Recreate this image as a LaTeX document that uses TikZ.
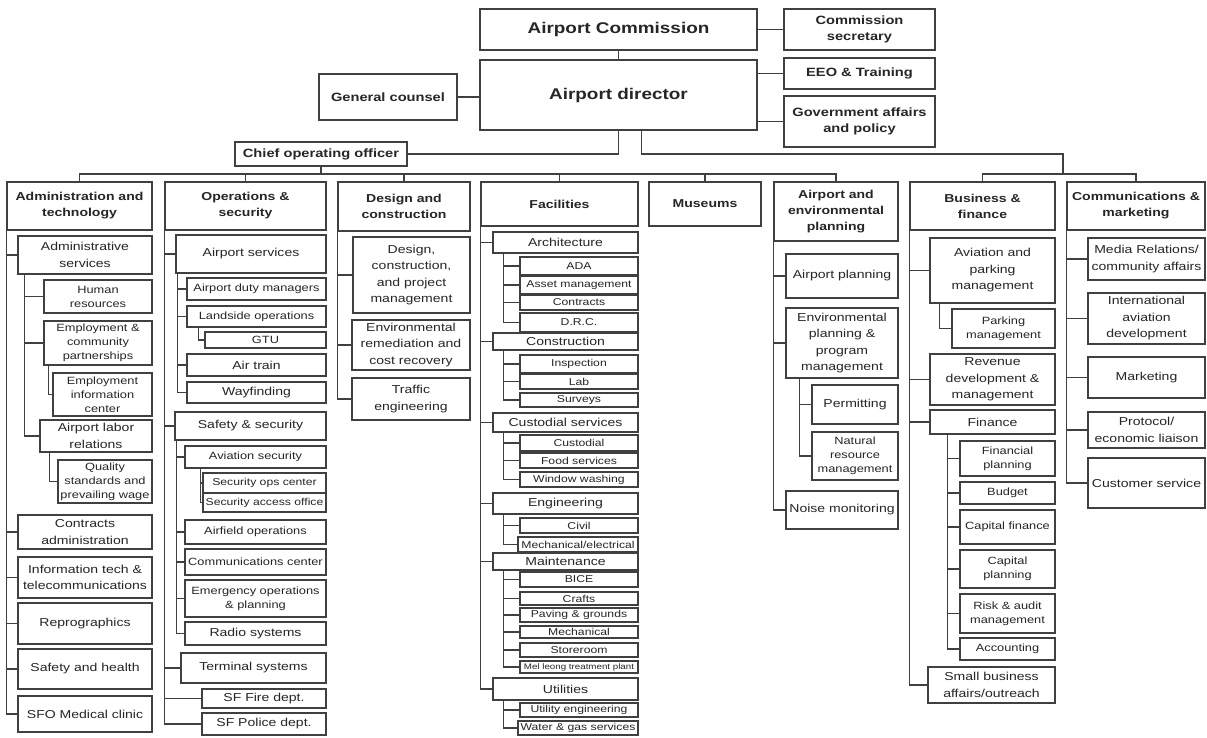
\documentclass[tikz,border=0pt]{standalone}
\usepackage{fontspec}
\newfontfamily\mf[FakeStretch=1.22]{Liberation Sans}
\newcommand\fzT{\mf\bfseries\fontsize{15.5}{18}\selectfont}
\newcommand\fzK{\mf\bfseries\fontsize{12}{16}\selectfont}
\newcommand\fzH{\mf\bfseries\fontsize{11.5}{16}\selectfont}
\newcommand\fzA{\mf\fontsize{11.5}{16.5}\selectfont}
\newcommand\fzB{\mf\fontsize{10.5}{14}\selectfont}
\newcommand\fzC{\mf\fontsize{10}{11}\selectfont}
\newcommand\fzD{\mf\fontsize{8}{9}\selectfont}
\tikzset{
  box/.style={draw=black!75, line width=1.1pt, align=center, inner sep=0.5pt, text=black!85},
  ln/.style={draw=black!75, line width=1.1pt}
}
\newcommand\bx[7]{%
  \pgfmathsetmacro\bxw{#4-#2}\pgfmathsetmacro\bxh{#5-#3}%
  \pgfmathsetmacro\bxx{(#2+#4)/2}\pgfmathsetmacro\bxy{(#3+#5)/2}%
  \node[box,font=#6,minimum width=\bxw pt,minimum height=\bxh pt] (#1) at (\bxx,\bxy) {#7};}
\begin{document}
\begin{tikzpicture}[x=1pt,y=-1pt]
\fill[white] (0,0) rectangle (1207,737);
\useasboundingbox (0,0) rectangle (1207,737);
% top
\bx{ac}{480}{9}{757}{50}{\fzT}{Airport Commission}
\bx{cs}{784}{9}{935}{50}{\fzK}{Commission\\secretary}
\bx{ad}{480}{60}{757}{130}{\fzT}{Airport director}
\bx{gc}{319}{74}{457}{120}{\fzK}{General counsel}
\bx{eeo}{784}{58}{935}{89}{\fzK}{EEO \& Training}
\bx{ga}{784}{96}{935}{147}{\fzK}{Government affairs\\and policy}
\bx{coo}{235}{142}{407}{166}{\fzK}{Chief operating officer}
\coordinate (barY) at (0,174);
\coordinate (rj) at (1063,154);
\draw[ln] (ac.east) -- (ac.east -| cs.west);
\draw[ln] (ac.south) -- (ad.north);
\draw[ln] (gc.east) -- (gc.east -| ad.west);
\draw[ln] (eeo.west) -- (eeo.west -| ad.east);
\draw[ln] (ga.west) -- (ga.west -| ad.east);
\draw[ln] (ad.south) |- (coo.east);
\draw[ln] ([xshift=23pt]ad.south) |- (rj) -- (rj |- barY);
% headers
\bx{h1}{7}{182}{152}{230}{\fzH}{Administration and\\technology}
\bx{h2}{165}{182}{326}{230}{\fzH}{Operations \&\\security}
\bx{h3}{338}{182}{470}{231}{\fzH}{Design and\\construction}
\bx{h4}{481}{182}{638}{226}{\fzH}{Facilities}
\bx{h5}{649}{182}{761}{226}{\fzH}{Museums}
\bx{h6}{774}{182}{898}{241}{\fzH}{Airport and\\environmental\\planning}
\bx{h7}{910}{182}{1055}{230}{\fzH}{Business \&\\finance}
\bx{h8}{1067}{182}{1205}{230}{\fzH}{Communications \&\\marketing}
\draw[ln] (coo.south) -- (coo.south |- barY);
\draw[ln] (h1.north) |- (h6.north |- barY) -- (h6.north);
\foreach \h in {h2,h3,h4,h5} \draw[ln] (\h.north) -- (\h.north |- barY);
\draw[ln] (h7.north) |- (h8.north |- barY) -- (h8.north);
% column 1
\bx{c1a}{18}{236}{152}{274}{\fzA}{Administrative\\services}
\bx{c1a1}{44}{280}{152}{313}{\fzB}{Human\\resources}
\bx{c1a2}{44}{321}{152}{365}{\fzB}{Employment \&\\community\\partnerships}
\bx{c1a2a}{53}{373}{152}{416}{\fzB}{Employment\\information\\center}
\bx{c1a3}{40}{420}{152}{452}{\fzA}{Airport labor\\relations}
\bx{c1a3a}{58}{460}{152}{503}{\fzB}{Quality\\standards and\\prevailing wage}
\bx{c1b}{18}{515}{152}{549}{\fzA}{Contracts\\administration}
\bx{c1c}{18}{557}{152}{598}{\fzA}{Information tech \&\\telecommunications}
\bx{c1d}{18}{603}{152}{644}{\fzA}{Reprographics}
\bx{c1e}{18}{649}{152}{689}{\fzA}{Safety and health}
\bx{c1f}{18}{696}{152}{732}{\fzA}{SFO Medical clinic}
\foreach \c in {c1a,c1b,c1c,c1d,c1e,c1f} \draw[ln] (h1.south west) |- (\c.west);
\foreach \c in {c1a1,c1a2,c1a3} \draw[ln] ([xshift=7pt]c1a.south west) |- (\c.west);
\draw[ln] ([xshift=5pt]c1a2.south west) |- (c1a2a.west);
\draw[ln] ([xshift=10pt]c1a3.south west) |- (c1a3a.west);
% column 2
\bx{c2a}{176}{235}{326}{273}{\fzA}{Airport services}
\bx{c2a1}{187}{278}{326}{300}{\fzB}{Airport duty managers}
\bx{c2a2}{187}{306}{326}{327}{\fzB}{Landside operations}
\bx{c2a2a}{205}{332}{326}{348}{\fzB}{GTU}
\bx{c2a3}{187}{354}{326}{376}{\fzA}{Air train}
\bx{c2a4}{187}{382}{326}{403}{\fzA}{Wayfinding}
\bx{c2b}{175}{412}{326}{440}{\fzA}{Safety \& security}
\bx{c2b1}{185}{446}{326}{468}{\fzB}{Aviation security}
\bx{c2b1a}{203}{473}{326}{493}{\fzC}{Security ops center}
\bx{c2b1b}{203}{493}{326}{512}{\fzC}{Security access office}
\bx{c2b2}{185}{520}{326}{544}{\fzB}{Airfield operations}
\bx{c2b3}{185}{549}{326}{575}{\fzB}{Communications center}
\bx{c2b4}{185}{580}{326}{617}{\fzB}{Emergency operations\\\& planning}
\bx{c2b5}{185}{622}{326}{645}{\fzA}{Radio systems}
\bx{c2c}{181}{653}{326}{683}{\fzA}{Terminal systems}
\bx{c2d}{202}{689}{326}{708}{\fzA}{SF Fire dept.}
\bx{c2e}{202}{713}{326}{735}{\fzA}{SF Police dept.}
\foreach \c in {c2a,c2b,c2c,c2d,c2e} \draw[ln] (h2.south west) |- (\c.west);
\foreach \c in {c2a1,c2a2,c2a3,c2a4} \draw[ln] ([xshift=2pt]c2a.south west) |- (\c.west);
\draw[ln] ([xshift=12pt]c2a2.south west) |- (c2a2a.west);
\foreach \c in {c2b1,c2b2,c2b3,c2b4,c2b5} \draw[ln] ([xshift=2pt]c2b.south west) |- (\c.west);
\foreach \c in {c2b1a,c2b1b} \draw[ln] ([xshift=16pt]c2b1.south west) |- (\c.west);
% column 3
\bx{c3a}{353}{237}{470}{313}{\fzA}{Design,\\construction,\\and project\\management}
\bx{c3b}{352}{320}{470}{370}{\fzA}{Environmental\\remediation and\\cost recovery}
\bx{c3c}{352}{378}{470}{420}{\fzA}{Traffic\\engineering}
\foreach \c in {c3a,c3b,c3c} \draw[ln] (h3.south west) |- (\c.west);
% column 4
\bx{f1}{493}{232}{638}{253}{\fzA}{Architecture}
\bx{f1a}{520}{257}{638}{275}{\fzC}{ADA}
\bx{f1b}{520}{276}{638}{294}{\fzC}{Asset management}
\bx{f1c}{520}{295}{638}{310}{\fzC}{Contracts}
\bx{f1d}{520}{313}{638}{332}{\fzC}{D.R.C.}
\bx{f2}{493}{333}{638}{350}{\fzA}{Construction}
\bx{f2a}{520}{355}{638}{373}{\fzC}{Inspection}
\bx{f2b}{520}{374}{638}{389}{\fzC}{Lab}
\bx{f2c}{520}{393}{638}{407}{\fzC}{Surveys}
\bx{f3}{493}{413}{638}{432}{\fzA}{Custodial services}
\bx{f3a}{520}{435}{638}{451}{\fzC}{Custodial}
\bx{f3b}{520}{453}{638}{468}{\fzC}{Food services}
\bx{f3c}{520}{472}{638}{487}{\fzC}{Window washing}
\bx{f4}{493}{493}{638}{514}{\fzA}{Engineering}
\bx{f4a}{520}{518}{638}{533}{\fzC}{Civil}
\bx{f4b}{518}{537}{638}{552}{\fzC}{Mechanical/electrical}
\bx{f5}{493}{553}{638}{570}{\fzA}{Maintenance}
\bx{f5a}{520}{572}{638}{587}{\fzC}{BICE}
\bx{f5b}{520}{592}{638}{605}{\fzC}{Crafts}
\bx{f5c}{520}{608}{638}{622}{\fzC}{Paving \& grounds}
\bx{f5d}{520}{626}{638}{638}{\fzC}{Mechanical}
\bx{f5e}{520}{643}{638}{657}{\fzC}{Storeroom}
\bx{f5f}{520}{661}{638}{673}{\fzD}{Mel leong treatment plant}
\bx{f6}{493}{678}{638}{700}{\fzA}{Utilities}
\bx{f6a}{520}{703}{638}{717}{\fzC}{Utility engineering}
\bx{f6b}{518}{721}{638}{735}{\fzC}{Water \& gas services}
\foreach \c in {f1,f2,f3,f4,f5,f6} \draw[ln] (h4.south west) |- (\c.west);
\foreach \c in {f1a,f1b,f1c,f1d} \draw[ln] ([xshift=11pt]f1.south west) |- (\c.west);
\foreach \c in {f2a,f2b,f2c} \draw[ln] ([xshift=11pt]f2.south west) |- (\c.west);
\foreach \c in {f3a,f3b,f3c} \draw[ln] ([xshift=11pt]f3.south west) |- (\c.west);
\foreach \c in {f4a,f4b} \draw[ln] ([xshift=11pt]f4.south west) |- (\c.west);
\foreach \c in {f5a,f5b,f5c,f5d,f5e,f5f} \draw[ln] ([xshift=11pt]f5.south west) |- (\c.west);
\foreach \c in {f6a,f6b} \draw[ln] ([xshift=11pt]f6.south west) |- (\c.west);
% column 6
\bx{e1}{786}{254}{898}{298}{\fzA}{Airport planning}
\bx{e2}{786}{308}{898}{378}{\fzA}{Environmental\\planning \&\\program\\management}
\bx{e2a}{812}{385}{898}{424}{\fzA}{Permitting}
\bx{e2b}{812}{432}{898}{480}{\fzB}{Natural\\resource\\management}
\bx{e3}{786}{491}{898}{529}{\fzA}{Noise monitoring}
\foreach \c in {e1,e2,e3} \draw[ln] (h6.south west) |- (\c.west);
\foreach \c in {e2a,e2b} \draw[ln] ([xshift=14pt]e2.south west) |- (\c.west);
% column 7
\bx{b1}{930}{238}{1055}{303}{\fzA}{Aviation and\\parking\\management}
\bx{b1a}{952}{309}{1055}{348}{\fzB}{Parking\\management}
\bx{b2}{930}{354}{1055}{405}{\fzA}{Revenue\\development \&\\management}
\bx{b3}{930}{410}{1055}{434}{\fzA}{Finance}
\bx{b3a}{960}{441}{1055}{476}{\fzB}{Financial\\planning}
\bx{b3b}{960}{482}{1055}{504}{\fzB}{Budget}
\bx{b3c}{960}{510}{1055}{544}{\fzB}{Capital finance}
\bx{b3d}{960}{550}{1055}{588}{\fzB}{Capital\\planning}
\bx{b3e}{960}{594}{1055}{633}{\fzB}{Risk \& audit\\management}
\bx{b3f}{960}{638}{1055}{660}{\fzB}{Accounting}
\bx{b4}{928}{667}{1055}{703}{\fzA}{Small business\\affairs/outreach}
\foreach \c in {b1,b2,b3,b4} \draw[ln] (h7.south west) |- (\c.west);
\draw[ln] ([xshift=10pt]b1.south west) |- (b1a.west);
\foreach \c in {b3a,b3b,b3c,b3d,b3e,b3f} \draw[ln] ([xshift=18pt]b3.south west) |- (\c.west);
% column 8
\bx{m1}{1088}{238}{1205}{280}{\fzA}{Media Relations/\\community affairs}
\bx{m2}{1088}{293}{1205}{344}{\fzA}{International\\aviation\\development}
\bx{m3}{1088}{357}{1205}{398}{\fzA}{Marketing}
\bx{m4}{1088}{412}{1205}{448}{\fzA}{Protocol/\\economic liaison}
\bx{m5}{1088}{458}{1205}{508}{\fzA}{Customer service}
\foreach \c in {m1,m2,m3,m4,m5} \draw[ln] (h8.south west) |- (\c.west);
\end{tikzpicture}
\end{document}
